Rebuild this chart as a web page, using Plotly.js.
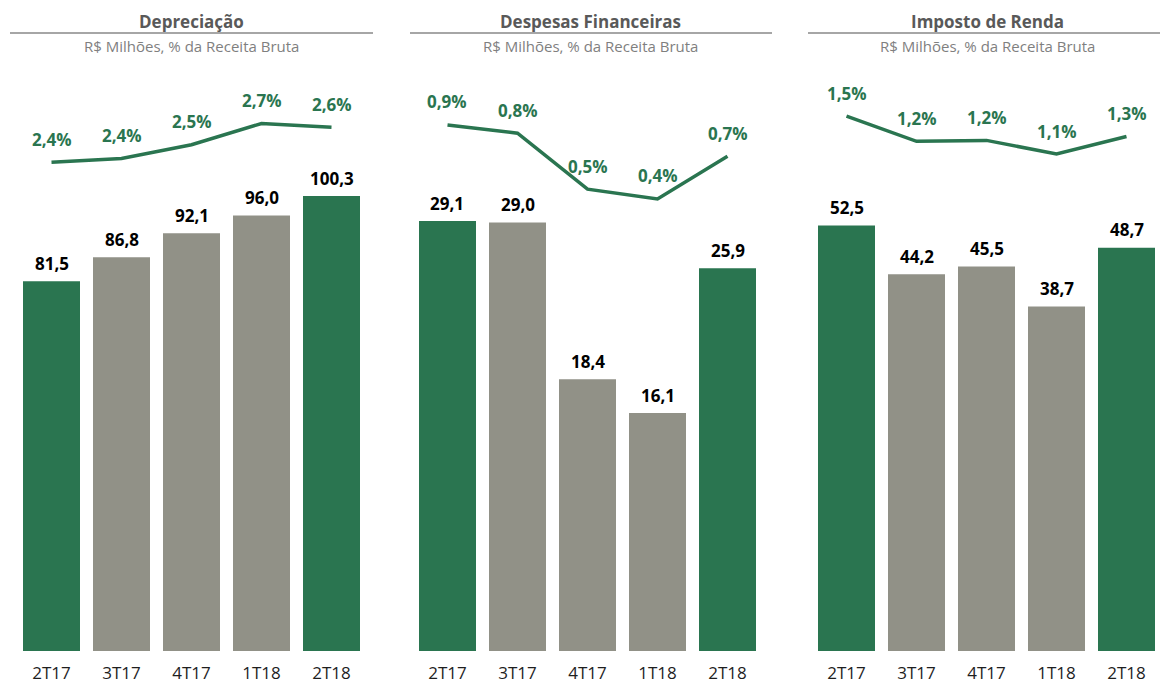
<!DOCTYPE html>
<html>
<head>
<meta charset="utf-8">
<script src="https://cdn.plot.ly/plotly-3.0.1.min.js"></script>
<style>
  html, body { margin: 0; padding: 0; background: #ffffff; }
  #chart { width: 1160px; height: 686px; }
</style>
</head>
<body>
<div id="chart"></div>
<script>
// ---------------- DATA ----------------
const categories = ['2T17', '3T17', '4T17', '1T18', '2T18'];
const highlighted = ['2T17', '2T18'];

const panelTitles = ['Depreciação', 'Despesas Financeiras', 'Imposto de Renda'];
const subtitleText = 'R$ Milhões, % da Receita Bruta';

const depreciacaoValores = [81.5, 86.8, 92.1, 96.0, 100.3];
const depreciacaoPct     = [2.36, 2.39, 2.50, 2.67, 2.64];

const despesasValores = [29.1, 29.0, 18.4, 16.1, 25.9];
const despesasPct     = [0.88, 0.83, 0.49, 0.43, 0.69];

const impostoValores = [52.5, 44.2, 45.5, 38.7, 48.7];
const impostoPct     = [1.49, 1.23, 1.24, 1.10, 1.28];

// ---------------- STYLE / LAYOUT ----------------
const W = 1160, H = 686;
const GREEN = '#2a7550';
const GRAY = '#919187';
const FONT = 'Open Sans, Noto Sans, sans-serif';

const plotTop = 60, plotBottom = 651;
const yDomain = [(H - plotBottom) / H, (H - plotTop) / H];

const panels = [
  { values: depreciacaoValores, pct: depreciacaoPct, left: 16.5, right: 366.5,
    barRange: [0, 130.3], base: 0, lineRange: [-1.55, 3.178], center: 191 },
  { values: despesasValores, pct: despesasPct, left: 412.5, right: 762.5,
    barRange: [0, 40], base: 0, lineRange: [-2.318, 1.275], center: 590 },
  { values: impostoValores, pct: impostoPct, left: 811.5, right: 1161.5,
    barRange: [-20, 80.7], base: -20, lineRange: [-4.0, 2.065], center: 987 }
];
const titleLines = [[10, 373], [410, 772], [808, 1160]];

function fmt(v) { return v.toFixed(1).replace('.', ','); }

const traces = [];
const annotations = [];
const shapes = [];
const layout = {
  width: W, height: H,
  margin: { l: 0, r: 0, t: 0, b: 0, pad: 0 },
  paper_bgcolor: '#ffffff', plot_bgcolor: 'rgba(0,0,0,0)',
  showlegend: false,
  bargap: 1 - 57 / 70,
  separators: ',.',
  font: { family: FONT }
};

panels.forEach((p, i) => {
  const xName = i === 0 ? 'x' : 'x' + (i + 1);
  const yBarName = i === 0 ? 'y' : 'y' + (2 * i + 1);
  const yLineName = 'y' + (2 * i + 2);
  const xKey = i === 0 ? 'xaxis' : 'xaxis' + (i + 1);
  const yBarKey = i === 0 ? 'yaxis' : 'yaxis' + (2 * i + 1);
  const yLineKey = 'yaxis' + (2 * i + 2);

  const pitch = 70;
  const domRight = Math.min(p.right, W);
  const xRange = [-0.5, -0.5 + (domRight - p.left) / pitch];

  layout[xKey] = {
    domain: [p.left / W, domRight / W],
    range: xRange,
    type: 'category',
    anchor: yBarName,
    showgrid: false, zeroline: false, showline: false,
    ticks: '',
    ticklabelstandoff: 10,
    tickfont: { family: FONT, size: 17, color: '#1e1e1e' },
    fixedrange: true
  };
  layout[yBarKey] = {
    domain: yDomain, range: p.barRange, anchor: xName,
    visible: false, showgrid: false, zeroline: false, fixedrange: true
  };
  layout[yLineKey] = {
    overlaying: yBarName, range: p.lineRange, anchor: xName, side: 'right',
    visible: false, showgrid: false, zeroline: false, fixedrange: true
  };

  traces.push({
    type: 'bar',
    x: categories,
    y: p.values.map(v => v - p.base),
    base: p.base,
    xaxis: xName, yaxis: yBarName,
    marker: { color: categories.map(c => highlighted.includes(c) ? GREEN : GRAY), line: { width: 0 } },
    hoverinfo: 'skip'
  });
  traces.push({
    type: 'scatter', mode: 'lines',
    x: categories, y: p.pct,
    xaxis: xName, yaxis: yLineName,
    line: { color: GREEN, width: 3.5 },
    cliponaxis: false,
    hoverinfo: 'skip'
  });

  categories.forEach((c, k) => {
    annotations.push({
      x: c, y: p.values[k], xref: xName, yref: yBarName,
      text: fmt(p.values[k]), showarrow: false, yshift: 18,
      font: { family: FONT, size: 17, color: '#000000', weight: 'bold' }
    });
    annotations.push({
      x: c, y: p.pct[k], xref: xName, yref: yLineName,
      text: fmt(p.pct[k]) + '%', showarrow: false, yshift: 23,
      font: { family: FONT, size: 17, color: GREEN, weight: 'bold' }
    });
  });

  annotations.push({
    x: p.center / W, y: (H - 22) / H, xref: 'paper', yref: 'paper',
    text: '<b>' + panelTitles[i] + '</b>', showarrow: false,
    xanchor: 'center', yanchor: 'middle',
    font: { family: FONT, size: 17, color: '#595959' }
  });
  annotations.push({
    x: p.center / W, y: (H - 46.5) / H, xref: 'paper', yref: 'paper',
    text: subtitleText, showarrow: false,
    xanchor: 'center', yanchor: 'middle',
    font: { family: FONT, size: 15, color: '#7f7f7f' }
  });
  shapes.push({
    type: 'line', xref: 'paper', yref: 'paper',
    x0: titleLines[i][0] / W, x1: titleLines[i][1] / W,
    y0: (H - 33) / H, y1: (H - 33) / H,
    line: { color: '#a6a6a6', width: 2 }
  });
});

layout.annotations = annotations;
layout.shapes = shapes;

Plotly.newPlot('chart', traces, layout, { staticPlot: true, displayModeBar: false });
</script>
</body>
</html>
